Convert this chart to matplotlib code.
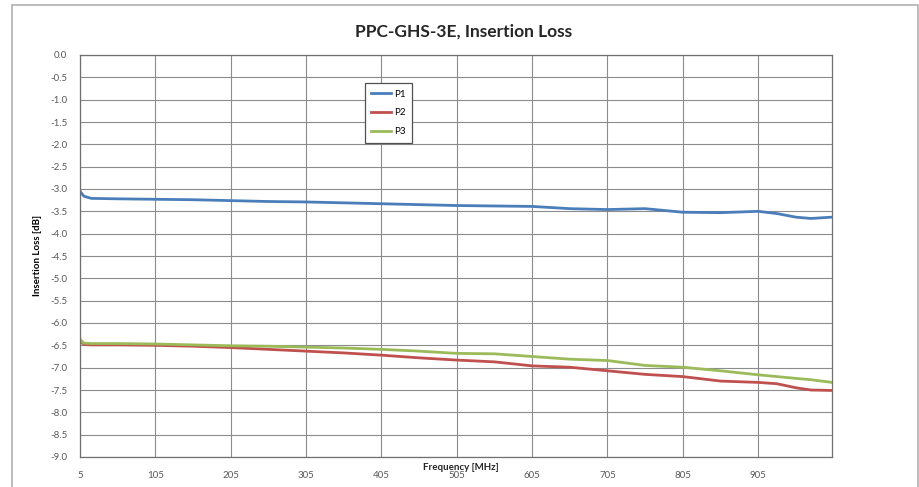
import matplotlib.pyplot as plt
from matplotlib.patches import Rectangle

plt.rcParams['font.family'] = ['Lato', 'DejaVu Sans']

# frequency points [MHz] and insertion loss [dB]
freq = [5, 10, 20, 55, 105, 155, 205, 255, 305, 355, 405, 455, 505, 555, 605,
        655, 705, 755, 805, 855, 905, 930, 955, 975, 1003]
p1 = [-3.05, -3.16, -3.21, -3.22, -3.23, -3.24, -3.26, -3.28, -3.29, -3.31, -3.33,
      -3.35, -3.37, -3.38, -3.39, -3.44, -3.46, -3.44, -3.52, -3.53, -3.50, -3.55,
      -3.63, -3.66, -3.63]
p2 = [-6.38, -6.48, -6.49, -6.49, -6.50, -6.52, -6.55, -6.59, -6.63, -6.67, -6.72,
      -6.78, -6.83, -6.87, -6.96, -6.99, -7.07, -7.15, -7.20, -7.30, -7.33, -7.36,
      -7.45, -7.50, -7.51]
p3 = [-6.36, -6.45, -6.46, -6.46, -6.47, -6.49, -6.51, -6.52, -6.54, -6.56, -6.59,
      -6.63, -6.68, -6.69, -6.75, -6.81, -6.84, -6.95, -6.99, -7.07, -7.16, -7.20,
      -7.24, -7.27, -7.33]
names = ['P1', 'P2', 'P3']
colors = ['#4a7ebb', '#c0504d', '#9bbb59']

xticks = [5, 105, 205, 305, 405, 505, 605, 705, 805, 905]
yticks = [0.0, -0.5, -1.0, -1.5, -2.0, -2.5, -3.0, -3.5, -4.0, -4.5,
          -5.0, -5.5, -6.0, -6.5, -7.0, -7.5, -8.0, -8.5, -9.0]

fig = plt.figure(figsize=(9.2, 4.87), dpi=100)
ax = fig.add_axes([80/920, 30/487, 752/920, 402/487])

for ys, name, c in zip([p1, p2, p3], names, colors):
    ax.plot(freq, ys, color=c, lw=2.0, label=name)

ax.set_xlim(5, 1003)
ax.set_ylim(-9, 0)
ax.set_xticks(xticks)
ax.set_xticklabels([str(t) for t in xticks])
ax.set_yticks(yticks)
ax.set_yticklabels(['%.1f' % t for t in yticks])
ax.tick_params(axis='both', length=0, labelsize=7, labelcolor='#595959')
ax.tick_params(axis='y', pad=9)
ax.tick_params(axis='x', pad=10)
ax.grid(True, color='#8c8c8c', lw=0.8)
ax.set_axisbelow(True)
for s in ax.spines.values():
    s.set_color('#707070')
    s.set_linewidth(0.9)

ax.set_ylabel('Insertion Loss [dB]', fontsize=7, fontweight='bold', labelpad=6)

leg = ax.legend(loc='upper left', bbox_to_anchor=(0.372, 0.943), fontsize=7,
                handlelength=2.0, handletextpad=0.3, labelspacing=1.0,
                borderpad=0.7, fancybox=False, framealpha=1)
leg.get_frame().set_edgecolor('#505050')
leg.get_frame().set_linewidth(0.9)

fig.text(464/920, 1 - 32/487, 'PPC-GHS-3E, Insertion Loss', ha='center', va='center',
         fontsize=12.5, fontweight='bold', color='#262626')
fig.text(461/920, 1 - 467/487, 'Frequency [MHz]', ha='center', va='center',
         fontsize=7, fontweight='bold', color='#262626')

# outer chart border
fig.add_artist(Rectangle((12/920, -0.1), 906/920, 1.1 - 5/487, transform=fig.transFigure,
                         fill=False, edgecolor='#b0b0b0', lw=1.2))

fig.savefig('out.png', dpi=100)
